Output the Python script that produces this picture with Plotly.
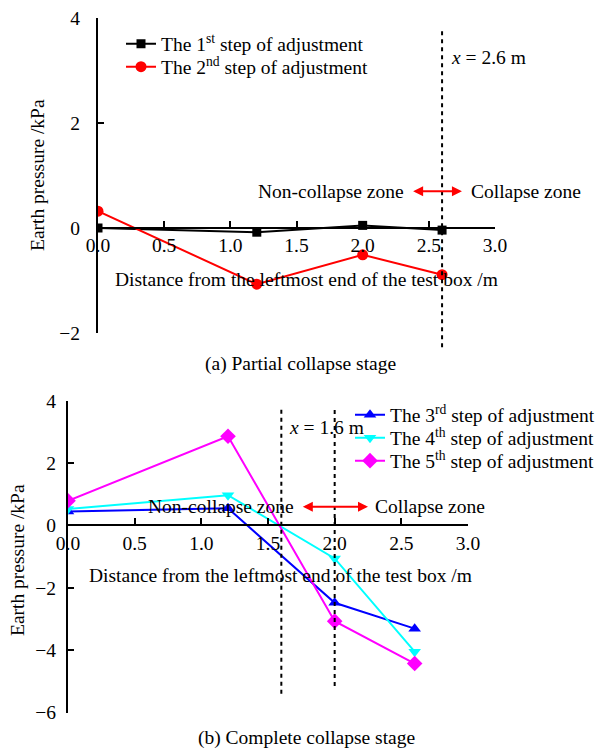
import plotly.graph_objects as go

# ---- data -------------------------------------------------------------
dist = [0.0, 1.2, 2.0, 2.6]                      # gauge positions /m

step1 = [0.0, -0.08, 0.05, -0.04]                # partial collapse stage
step2 = [0.32, -1.07, -0.51, -0.89]

step3 = [0.45, 0.55, -2.48, -3.31]               # complete collapse stage
step4 = [0.53, 0.97, -1.06, -4.05]
step5 = [0.79, 2.86, -3.07, -4.43]

boundary_a = [2.6]                               # collapse boundary, stage (a)
boundary_b = [1.6, 2.0]                          # collapse boundaries, stage (b)

x_ticks = [0.0, 0.5, 1.0, 1.5, 2.0, 2.5, 3.0]
y_ticks_a = [-2, 0, 2, 4]
y_ticks_b = [-6, -4, -2, 0, 2, 4]

# ---- layout constants -------------------------------------------------
W, H = 601, 751
FONT = "Liberation Serif"
FS = 19.5

xr_a, yr_a = [0, 3], [-2, 4]
xr_b, yr_b = [0, 3], [-6, 4]

xdom_a = [98 / W, 495 / W]
ydom_a = [1 - 333 / H, 1 - 18 / H]
xdom_b = [68 / W, 468 / W]
ydom_b = [1 - 712.5 / H, 1 - 400.7 / H]


def frac(v, rng):
    return (v - rng[0]) / (rng[1] - rng[0])


def paper_y(v, rng, dom):
    return dom[0] + frac(v, rng) * (dom[1] - dom[0])


fig = go.Figure()

line_w = 2
series = [
    (step1, "The 1<sup>st</sup> step of adjustment", "black", "square", 9, "x", "y", "legend"),
    (step2, "The 2<sup>nd</sup> step of adjustment", "#ff0000", "circle", 11, "x", "y", "legend2"),
    (step3, "The 3<sup>rd</sup> step of adjustment", "#0000ff", "triangle-up", 11, "x2", "y2", "legend3"),
    (step4, "The 4<sup>th</sup> step of adjustment", "#00ffff", "triangle-down", 11, "x2", "y2", "legend4"),
    (step5, "The 5<sup>th</sup> step of adjustment", "#ff00ff", "diamond", 12, "x2", "y2", "legend5"),
]
for vals, name, col, sym, size, xa, ya, lg in series:
    fig.add_trace(go.Scatter(x=dist, y=vals, mode="lines+markers", name=name,
                             line=dict(color=col, width=line_w),
                             marker=dict(symbol=sym, size=size, color=col),
                             xaxis=xa, yaxis=ya, legend=lg, showlegend=True))

axis_common = dict(showline=True, linecolor="black", linewidth=2,
                   ticks="inside", ticklen=6, tickwidth=2, tickcolor="black",
                   showgrid=False, zeroline=False,
                   tickfont=dict(family=FONT, size=FS, color="black"))

shapes = []
annotations = []

# vertical dashed boundaries (drawn a little past the plot box)
for xb in boundary_a:
    shapes.append(dict(type="line", xref="x", yref="paper", x0=xb, x1=xb,
                       y0=paper_y(-2.27, yr_a, ydom_a), y1=paper_y(3.81, yr_a, ydom_a),
                       line=dict(color="black", width=2, dash="4px,4px")))
for xb, ytop, ybot in zip(boundary_b, [3.75, 3.8], [-5.4, -5.15]):
    shapes.append(dict(type="line", xref="x2", yref="paper", x0=xb, x1=xb,
                       y0=paper_y(ybot, yr_b, ydom_b), y1=paper_y(ytop, yr_b, ydom_b),
                       line=dict(color="black", width=2, dash="4px,4px")))

txt = dict(family=FONT, size=FS, color="black")

# stage (a) labels
annotations += [
    dict(x=2.65, y=3.24, xref="x", yref="y", text="<i>x</i> = 2.6 m",
         showarrow=False, xanchor="left", yanchor="middle", font=txt),
    dict(x=2.33, y=0.70, xref="x", yref="y", text="Non-collapse zone",
         showarrow=False, xanchor="right", yanchor="middle", font=txt),
    dict(x=2.80, y=0.70, xref="x", yref="y", text="Collapse zone",
         showarrow=False, xanchor="left", yanchor="middle", font=txt),
    dict(x=2.75, y=0.70, ax=2.37, ay=0.70, xref="x", yref="y", axref="x", ayref="y",
         text="", showarrow=True, arrowhead=2, startarrowhead=2, arrowside="end+start",
         arrowsize=1, arrowwidth=2, arrowcolor="#ff0000"),
    dict(x=306 / W, y=1 - 279 / H, xref="paper", yref="paper",
         text="Distance from the leftmost end of the test box /m",
         showarrow=False, xanchor="center", yanchor="middle", font=txt),
    dict(x=38 / W, y=1 - 175 / H, xref="paper", yref="paper", text="Earth pressure /kPa",
         textangle=-90, showarrow=False, xanchor="center", yanchor="middle", font=txt),
    dict(x=300 / W, y=1 - 364 / H, xref="paper", yref="paper",
         text="(a) Partial collapse stage",
         showarrow=False, xanchor="center", yanchor="middle", font=txt),
]

# stage (b) labels
annotations += [
    dict(x=1.64, y=3.13, xref="x2", yref="y2", text="<i>x</i> = 1.6 m",
         showarrow=False, xanchor="left", yanchor="middle", font=txt),
    dict(x=1.71, y=0.60, xref="x2", yref="y2", text="Non-collapse zone",
         showarrow=False, xanchor="right", yanchor="middle", font=txt),
    dict(x=2.29, y=0.60, xref="x2", yref="y2", text="Collapse zone",
         showarrow=False, xanchor="left", yanchor="middle", font=txt),
    dict(x=2.25, y=0.60, ax=1.75, ay=0.60, xref="x2", yref="y2", axref="x2", ayref="y2",
         text="", showarrow=True, arrowhead=2, startarrowhead=2, arrowside="end+start",
         arrowsize=1, arrowwidth=2, arrowcolor="#ff0000"),
    dict(x=280 / W, y=1 - 575 / H, xref="paper", yref="paper",
         text="Distance from the leftmost end of the test box /m",
         showarrow=False, xanchor="center", yanchor="middle", font=txt),
    dict(x=17 / W, y=1 - 560 / H, xref="paper", yref="paper", text="Earth pressure /kPa",
         textangle=-90, showarrow=False, xanchor="center", yanchor="middle", font=txt),
    dict(x=306 / W, y=1 - 738 / H, xref="paper", yref="paper",
         text="(b) Complete collapse stage",
         showarrow=False, xanchor="center", yanchor="middle", font=txt),
]


def legend_at(px, py):
    return dict(x=px / W, y=1 - py / H, xanchor="left", yanchor="middle",
                bgcolor="rgba(0,0,0,0)", font=txt, borderwidth=0, visible=True)


fig.update_layout(
    width=W, height=H,
    showlegend=True,
    margin=dict(l=0, r=0, t=0, b=0, autoexpand=False),
    paper_bgcolor="white", plot_bgcolor="white",
    font=dict(family=FONT, size=FS, color="black"),
    xaxis=dict(axis_common, domain=xdom_a, range=xr_a, anchor="free",
               position=paper_y(0, yr_a, ydom_a), tickvals=x_ticks, tickformat=".1f"),
    yaxis=dict(axis_common, domain=ydom_a, range=yr_a, anchor="x", tickvals=y_ticks_a,
               ticklabelstandoff=12),
    xaxis2=dict(axis_common, domain=xdom_b, range=xr_b, anchor="free",
                position=paper_y(0, yr_b, ydom_b), tickvals=x_ticks, tickformat=".1f"),
    yaxis2=dict(axis_common, domain=ydom_b, range=yr_b, anchor="x2", tickvals=y_ticks_b,
                ticklabelstandoff=6),
    legend=legend_at(121, 44),
    legend2=legend_at(121, 67),
    legend3=legend_at(350, 415),
    legend4=legend_at(350, 438),
    legend5=legend_at(350, 461),
    shapes=shapes,
    annotations=annotations,
)

fig.write_html("out.html")
